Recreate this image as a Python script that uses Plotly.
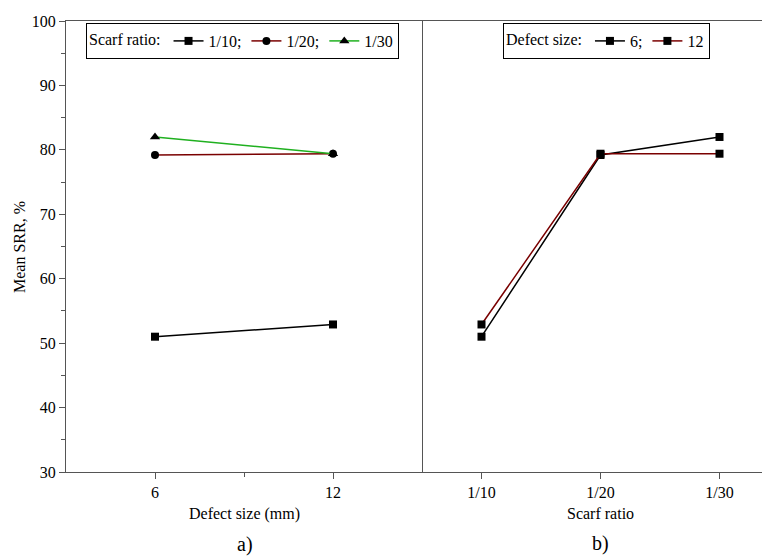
import plotly.graph_objects as go
from plotly.subplots import make_subplots

# ---- data ----
defect_sizes = [6, 12]
scarf_labels = ["1/10", "1/20", "1/30"]
scarf_pos = [1, 2, 3]

srr_1_10 = [51.0, 52.9]
srr_1_20 = [79.2, 79.4]
srr_1_30 = [82.0, 79.4]

srr_d6 = [51.0, 79.2, 82.0]
srr_d12 = [52.9, 79.4, 79.4]

FONT = "Liberation Serif, Times New Roman, serif"
AX = "#555555"

fig = make_subplots(rows=1, cols=2, horizontal_spacing=0.0)

fig.add_trace(go.Scatter(x=defect_sizes, y=srr_1_10, name="1/10;", mode="lines+markers",
                         line=dict(color="black", width=1.5),
                         marker=dict(symbol="square", size=8, color="black"),
                         legend="legend"), row=1, col=1)
fig.add_trace(go.Scatter(x=defect_sizes, y=srr_1_20, name="1/20;", mode="lines+markers",
                         line=dict(color="#7a0000", width=1.5),
                         marker=dict(symbol="circle", size=8, color="black"),
                         legend="legend"), row=1, col=1)
fig.add_trace(go.Scatter(x=defect_sizes, y=srr_1_30, name="1/30", mode="lines+markers",
                         line=dict(color="#1fb01f", width=1.5),
                         marker=dict(symbol="triangle-up", size=9, color="black"),
                         legend="legend"), row=1, col=1)

fig.add_trace(go.Scatter(x=scarf_pos, y=srr_d6, name="6;", mode="lines+markers",
                         line=dict(color="black", width=1.5),
                         marker=dict(symbol="square", size=8, color="black"),
                         legend="legend2"), row=1, col=2)
fig.add_trace(go.Scatter(x=scarf_pos, y=srr_d12, name="12", mode="lines+markers",
                         line=dict(color="#7a0000", width=1.5),
                         marker=dict(symbol="square", size=8, color="black"),
                         legend="legend2"), row=1, col=2)

# page places the figure 8px from the top-left corner of the window
OFF = 8
W, H = 770, 557
L_s, T_s, B_s = 66, 21, 472          # plot edges in screen pixels
L, T = L_s - OFF, T_s - OFF
PW = W - L
PH = B_s - T_s
B = H - T - PH
split = (422 - L_s) / PW

def px_x(p):
    return (p - L_s) / PW

def px_y(p):
    return (B_s - p) / PH

fig.update_layout(
    width=W, height=H,
    margin=dict(l=L, r=0, t=T, b=B),
    plot_bgcolor="white", paper_bgcolor="white",
    font=dict(family=FONT, size=16, color="black"),
    showlegend=True,
    legend=dict(orientation="h", x=px_x(86), y=px_y(23), xanchor="left", yanchor="top",
                bordercolor="black", borderwidth=1, bgcolor="white",
                title=dict(text="Scarf ratio:", side="left", font=dict(size=16, family=FONT)),
                font=dict(size=16, family=FONT), itemwidth=30, tracegroupgap=0),
    legend2=dict(orientation="h", x=px_x(503), y=px_y(23), xanchor="left", yanchor="top",
                 bordercolor="black", borderwidth=1, bgcolor="white",
                 title=dict(text="Defect size:", side="left", font=dict(size=16, family=FONT)),
                 font=dict(size=16, family=FONT), itemwidth=30, tracegroupgap=0),
)

fig.update_xaxes(domain=[0, split], range=[3, 15], tickvals=[6, 12], ticktext=["6", "12"],
                 ticks="outside", ticklen=6, tickcolor=AX, showline=True, linecolor=AX,
                 linewidth=1.3, mirror=True, showgrid=False, zeroline=False,
                 tickfont=dict(family=FONT, size=16),
                 minor=dict(tickvals=[9], ticks="outside", ticklen=4, tickcolor=AX),
                 row=1, col=1)
fig.update_xaxes(domain=[split, 1], range=[0.5, 0.5 + (W + OFF - 422) / 119.0],
                 tickvals=scarf_pos, ticktext=scarf_labels,
                 ticks="outside", ticklen=6, tickcolor=AX, showline=True, linecolor=AX,
                 linewidth=1.3, mirror=True, showgrid=False, zeroline=False,
                 tickfont=dict(family=FONT, size=16),
                 row=1, col=2)
fig.update_yaxes(range=[30, 100], dtick=10, ticks="outside", ticklen=6, tickcolor=AX,
                 showline=True, linecolor=AX, linewidth=1.3, mirror=True,
                 showgrid=False, zeroline=False,
                 tickfont=dict(family=FONT, size=16),
                 minor=dict(dtick=5, ticks="outside", ticklen=4, tickcolor=AX),
                 row=1, col=1)
fig.update_yaxes(range=[30, 100], showticklabels=False, ticks="", showline=False,
                 showgrid=False, zeroline=False, row=1, col=2)

annots = [
    dict(text="Defect size (mm)", x=px_x(244), y=px_y(514), size=16, angle=0),
    dict(text="Scarf ratio", x=px_x(600), y=px_y(514), size=16, angle=0),
    dict(text="a)", x=px_x(245), y=px_y(544), size=20, angle=0),
    dict(text="b)", x=px_x(600), y=px_y(543), size=20, angle=0),
    dict(text="Mean SRR, %", x=px_x(19), y=px_y(247), size=16, angle=-90),
]
for a in annots:
    fig.add_annotation(text=a["text"], x=a["x"], y=a["y"], xref="paper", yref="paper",
                       xanchor="center", yanchor="middle", showarrow=False,
                       textangle=a["angle"], font=dict(family=FONT, size=a["size"], color="black"))

fig.write_html("out.html")
